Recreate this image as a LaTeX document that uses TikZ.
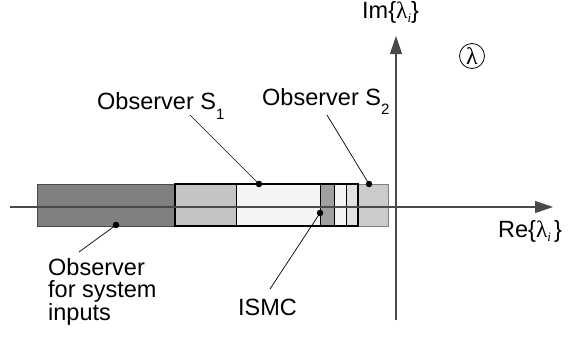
\documentclass[tikz,border=0pt]{standalone}
\usepackage{fontspec}
\setmainfont{Liberation Sans}
\newfontfamily\greekserif{Liberation Serif}
\usetikzlibrary{arrows.meta}
\definecolor{bandDark}{HTML}{808080}
\definecolor{bandMid}{HTML}{A0A0A0}
\definecolor{bandLight}{HTML}{C4C4C4}
\definecolor{bandPale}{HTML}{F4F4F4}
\definecolor{bandFaint}{HTML}{E2E2E2}
\definecolor{bandRight}{HTML}{CBCBCB}
\definecolor{axisGray}{HTML}{4A4A4A}
% upright lambda with an italic subscript i
\newcommand{\lamsub}{{\greekserif λ}\raisebox{-4pt}{\fontsize{13}{13}\selectfont\greekserif\itshape i}}
\begin{document}
\begin{tikzpicture}[x=1pt,y=-1pt,
  lbl/.style={font=\fontsize{23.5}{22.5}\selectfont, inner sep=0pt},
  axis/.style={draw=axisGray, line width=1.1pt, -{Triangle[length=18pt,width=12pt]}},
  leader/.style={draw=black, line width=0.7pt},
  dotmark/.style={circle, fill=black, inner sep=0pt, minimum size=6.5pt},
  thin band/.style={draw=black, line width=0.8pt},
]
\useasboundingbox (0,0) rectangle (569,337);

% eigenvalue bands
\filldraw[fill=bandDark, draw=axisGray, line width=0.8pt] (37,184) rectangle (175,226);
\filldraw[fill=bandRight, draw=bandDark, line width=0.8pt] (358,184) rectangle (388,226);
\fill[bandLight] (175,184) rectangle (236,226);
\fill[bandPale]  (236,184) rectangle (320,226);
\fill[bandMid]   (320,184) rectangle (334,226);
\fill[bandPale]  (334,184) rectangle (346,226);
\fill[bandFaint] (346,184) rectangle (358,226);
\draw[thin band] (236,184) -- (236,226) (320,184) -- (320,226)
                 (334,184) -- (334,226) (346,184) -- (346,226);
\draw[black, line width=1.9pt] (175,184) rectangle (358,226);

% axes
\coordinate (reStart) at (10,207);
\coordinate (reEnd) at (553,207);
\coordinate (imStart) at (396,320);
\coordinate (imEnd) at (396,36);
\draw[axis] (reStart) -- (reEnd);
\draw[axis] (imStart) -- (imEnd);

\node[lbl, anchor=base west] (imlabel) at (362,19) {Im\{\lamsub\}};
\node[lbl, anchor=base west] (relabel) at (498,237) {Re\{\lamsub\hspace{3pt}\}};
\node[draw, circle, line width=0.8pt, minimum size=25pt, inner sep=0pt,
      font=\fontsize{24}{24}\selectfont\greekserif] (lam) at (472,56) {λ};

% markers on the bands
\node[dotmark] (d1) at (259,184) {};
\node[dotmark] (d2) at (369,184) {};
\node[dotmark] (d3) at (116,225) {};
\node[dotmark] (d4) at (320,213) {};

% labels
\node[lbl, anchor=base west] (s1) at (97,109)
  {Observer S\raisebox{-10pt}{\fontsize{15}{15}\selectfont 1}};
\node[lbl, anchor=base west] (s2) at (262,105)
  {Observer S\raisebox{-9pt}{\fontsize{15}{15}\selectfont 2}};
\node[lbl, anchor=north west, align=left] (inputs) at (48,258)
  {Observer\\for system\\inputs};
\node[lbl, anchor=base west] (ismc) at (238,315) {ISMC};

% leader lines
\coordinate (s1end) at (190,115);
\coordinate (s2end) at (327,115);
\coordinate (inend) at (79,252);
\coordinate (ismcend) at (270,289);
\draw[leader] (s1end) -- (d1.center);
\draw[leader] (s2end) -- (d2.center);
\draw[leader] (inend) -- (d3.center);
\draw[leader] (ismcend) -- (d4.center);
\end{tikzpicture}
\end{document}
